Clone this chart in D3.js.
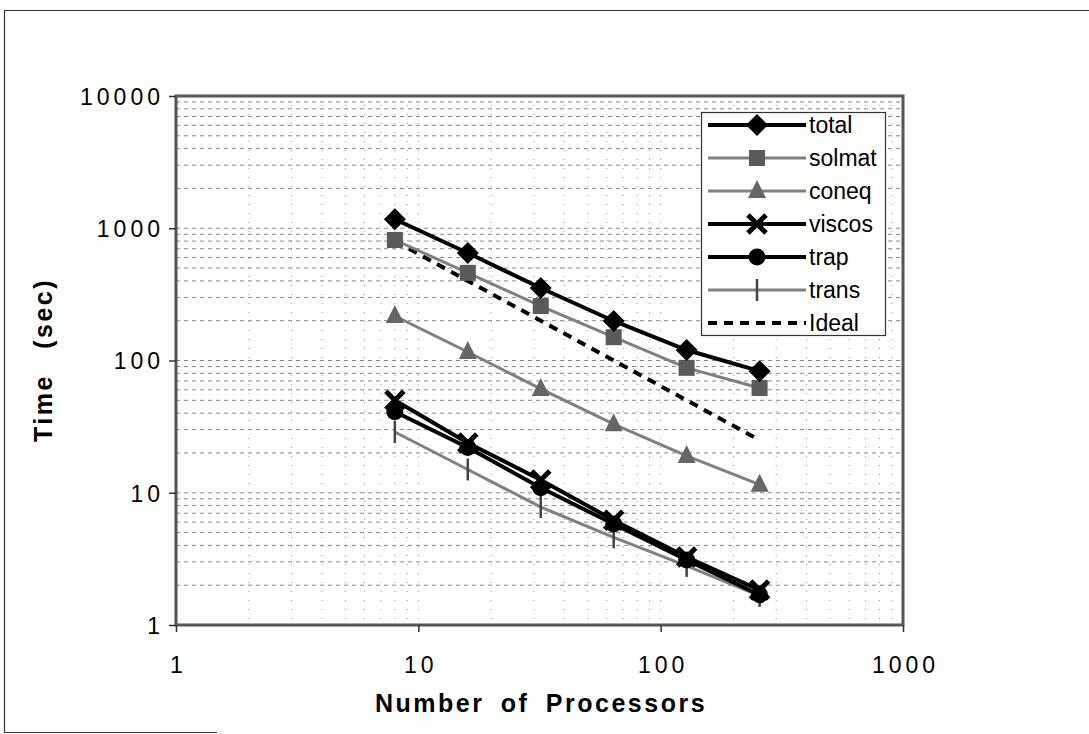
<!DOCTYPE html>
<html lang="en">
<head>
    <meta charset="utf-8">
    <title>Time vs Number of Processors</title>
    <script type="text/javascript" src="https://d3js.org/d3.v7.min.js"></script>
    <style type="text/css">
        body { margin: 0; background: white; }
        .tick-label { font-family: Arial, "Liberation Sans", sans-serif; font-size: 23px; letter-spacing: 4px; fill: black; }
        .axis-title { font-family: Arial, "Liberation Sans", sans-serif; font-size: 25px; font-weight: bold; letter-spacing: 2.5px; word-spacing: 7px; fill: black; }
        .legend-label { font-family: Arial, "Liberation Sans", sans-serif; font-size: 23px; fill: black; }
    </style>
</head>
<body>
<div id="chart"></div>
<script type="text/javascript">

    //Data
    var processors = [8, 16, 32, 64, 128, 256];
    var total  = [1170, 650, 353, 199, 120, 83];
    var solmat = [815, 460, 258, 150, 88, 62];
    var coneq  = [217, 116, 61, 33, 19, 11.5];
    var viscos = [50, 23.8, 12.5, 6.2, 3.27, 1.84];
    var trap   = [41, 22, 10.9, 5.8, 3.1, 1.69];
    var trans  = [28.8, 15, 7.8, 4.6, 2.8, 1.66];
    var ideal  = [800, 400, 200, 100, 50, 25];

    var xTicks = [1, 10, 100, 1000];
    var yTicks = [1, 10, 100, 1000, 10000];

    var series = [
        { name: "total",  values: total,  color: "black", width: 4,   marker: "diamond" },
        { name: "solmat", values: solmat, color: "#808080", width: 3, marker: "square" },
        { name: "coneq",  values: coneq,  color: "#808080", width: 3, marker: "triangle" },
        { name: "viscos", values: viscos, color: "black", width: 4,   marker: "cross" },
        { name: "trap",   values: trap,   color: "black", width: 4,   marker: "circle" },
        { name: "trans",  values: trans,  color: "#808080", width: 3, marker: "bar" },
        { name: "Ideal",  values: ideal,  color: "black", width: 4,   marker: "none", dash: "9,7" }
    ];

    var w = 1089, h = 734;
    var pLeft = 176, pRight = 903, pTop = 96, pBottom = 625;

    var x = d3.scaleLog().domain([1, 1000]).range([pLeft, pRight]);
    var y = d3.scaleLog().domain([1, 10000]).range([pBottom, pTop]);

    var svg = d3.select("#chart").append("svg")
        .attr("width", w)
        .attr("height", h);

    //Outer frame of the page
    svg.append("path")
        .attr("d", "M1089,10.5 H4.5 V732.5 H217")
        .attr("fill", "none")
        .attr("stroke", "#333")
        .attr("stroke-width", 1.2);

    //Minor and major grid values
    var gridX = [], gridY = [];
    for (var d = 1; d < 1000; d *= 10)
        for (var k = 1; k < 10; k++) gridX.push(d * k);
    for (var d2 = 1; d2 < 10000; d2 *= 10)
        for (var k2 = 1; k2 < 10; k2++) gridY.push(d2 * k2);

    svg.append("g").selectAll("line")
        .data(gridY.slice(1))
        .enter().append("line")
        .attr("x1", pLeft).attr("x2", pRight)
        .attr("y1", function (d) { return y(d); })
        .attr("y2", function (d) { return y(d); })
        .attr("stroke", "#888")
        .attr("stroke-width", 1)
        .attr("stroke-dasharray", "4,4");

    svg.append("g").selectAll("line")
        .data(gridX.slice(1))
        .enter().append("line")
        .attr("y1", pTop).attr("y2", pBottom)
        .attr("x1", function (d) { return x(d); })
        .attr("x2", function (d) { return x(d); })
        .attr("stroke", "#999")
        .attr("stroke-width", 1)
        .attr("stroke-dasharray", "1,8");

    //Plot frame
    svg.append("rect")
        .attr("x", pLeft).attr("y", pTop)
        .attr("width", pRight - pLeft).attr("height", pBottom - pTop)
        .attr("fill", "none")
        .attr("stroke", "#555")
        .attr("stroke-width", 3);

    //Axes
    var xAxis = d3.axisBottom(x).tickValues(xTicks).tickSize(7).tickFormat(d3.format("d"));
    var yAxis = d3.axisLeft(y).tickValues(yTicks).tickSize(7).tickFormat(d3.format("d"));

    var gx = svg.append("g").attr("transform", "translate(0," + pBottom + ")").call(xAxis);
    var gy = svg.append("g").attr("transform", "translate(" + pLeft + ",0)").call(yAxis);
    [gx, gy].forEach(function (g) {
        g.select(".domain").remove();
        g.selectAll(".tick line").attr("stroke", "#333").attr("stroke-width", 1.5);
        g.selectAll("text").attr("class", "tick-label").attr("fill", "black");
        g.attr("font-size", null).attr("font-family", null);
    });
    gx.selectAll("text").attr("y", 48).attr("dy", null).attr("dx", 2);
    gy.selectAll("text").attr("x", -12).attr("dy", "0.36em");

    svg.append("text")
        .attr("class", "axis-title")
        .attr("text-anchor", "middle")
        .attr("x", 541).attr("y", 712)
        .text("Number of Processors");

    svg.append("text")
        .attr("class", "axis-title")
        .attr("text-anchor", "middle")
        .style("word-spacing", "16px")
        .attr("transform", "translate(52,360) rotate(-90)")
        .text("Time (sec)");

    //Marker drawing
    function drawMarker(g, s, cx, cy) {
        if (s.marker === "diamond") {
            g.append("path").attr("d", "M" + cx + "," + (cy - 11) + " L" + (cx + 11) + "," + cy + " L" + cx + "," + (cy + 11) + " L" + (cx - 11) + "," + cy + " Z")
                .attr("fill", "black");
        } else if (s.marker === "square") {
            g.append("rect").attr("x", cx - 8).attr("y", cy - 8).attr("width", 16).attr("height", 16)
                .attr("fill", "#5a5a5a");
        } else if (s.marker === "triangle") {
            g.append("path").attr("d", "M" + cx + "," + (cy - 11) + " L" + (cx + 9) + "," + (cy + 7) + " L" + (cx - 9) + "," + (cy + 7) + " Z")
                .attr("fill", "#666");
        } else if (s.marker === "cross") {
            g.append("path").attr("d", "M" + (cx - 9) + "," + (cy - 9) + " L" + (cx + 9) + "," + (cy + 9) + " M" + (cx + 9) + "," + (cy - 9) + " L" + (cx - 9) + "," + (cy + 9))
                .attr("stroke", "black").attr("stroke-width", 5).attr("fill", "none");
        } else if (s.marker === "circle") {
            g.append("circle").attr("cx", cx).attr("cy", cy).attr("r", 8.5).attr("fill", "black");
        } else if (s.marker === "bar") {
            g.append("line").attr("x1", cx).attr("x2", cx).attr("y1", cy - 11).attr("y2", cy + 11)
                .attr("stroke", "#444").attr("stroke-width", 2.5);
        }
    }

    var line = d3.line()
        .x(function (d) { return x(d[0]); })
        .y(function (d) { return y(d[1]); });

    //Draw series, back to front
    series.slice().reverse().forEach(function (s) {
        var pts = processors.map(function (p, i) { return [p, s.values[i]]; });
        var g = svg.append("g");
        g.append("path")
            .datum(pts)
            .attr("d", line)
            .attr("fill", "none")
            .attr("stroke", s.color)
            .attr("stroke-width", s.width)
            .attr("stroke-dasharray", s.dash || null);
        pts.forEach(function (p) { drawMarker(g, s, x(p[0]), y(p[1])); });
    });

    //Legend
    var lg = svg.append("g");
    lg.append("rect")
        .attr("x", 701.5).attr("y", 112.5)
        .attr("width", 184).attr("height", 223)
        .attr("fill", "white")
        .attr("stroke", "#333")
        .attr("stroke-width", 1.2);

    series.forEach(function (s, i) {
        var ly = 125 + i * 33;
        lg.append("line")
            .attr("x1", 708).attr("x2", 806)
            .attr("y1", ly).attr("y2", ly)
            .attr("stroke", s.color)
            .attr("stroke-width", s.width)
            .attr("stroke-dasharray", s.dash || null);
        drawMarker(lg, s, 757, ly);
        lg.append("text")
            .attr("class", "legend-label")
            .attr("x", 809).attr("y", ly + 8)
            .text(s.name);
    });

</script>
</body>
</html>
